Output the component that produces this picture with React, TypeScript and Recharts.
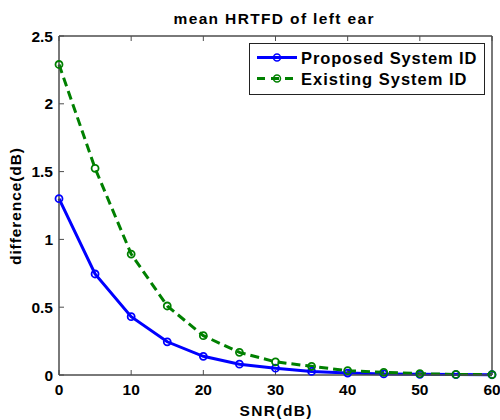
import React from 'react';
import { LineChart, Line, XAxis, YAxis, Legend } from 'recharts';

const snr = [0, 5, 10, 15, 20, 25, 30, 35, 40, 45, 50, 55, 60];
const proposed = [1.3, 0.745, 0.43, 0.245, 0.138, 0.08, 0.05, 0.026, 0.014, 0.008, 0.005, 0.003, 0.002];
const existing = [2.29, 1.524, 0.892, 0.509, 0.29, 0.167, 0.097, 0.064, 0.032, 0.02, 0.01, 0.004, 0.003];
const xTicks = [0, 10, 20, 30, 40, 50, 60];
const yTicks = [0, 0.5, 1, 1.5, 2, 2.5];
const seriesNames = ['Proposed System ID', 'Existing System ID'];

const data = snr.map((s, i) => ({ snr: s, proposed: proposed[i], existing: existing[i] }));

const FONT = "'Liberation Sans', Arial, Helvetica, sans-serif";
const AXIS = '#4d4d4d';
const BLUE = '#0000ff';
const GREEN = '#008000';
const DASH = '9 5';

const tickStyle = { fontSize: 15.5, fontWeight: 'bold', fill: '#000', fontFamily: FONT };
const labelStyle: React.CSSProperties = { fontSize: 15.5, fontWeight: 700, fontFamily: FONT };

const series = [
  { key: 'proposed', name: seriesNames[0], color: BLUE, dash: undefined as string | undefined, len: 175.5 },
  { key: 'existing', name: seriesNames[1], color: GREEN, dash: DASH, len: 165.5 },
];

const NoTick = () => <g />;

const LegendBox = () => (
  <svg width={237} height={53} style={{ display: 'block' }}>
    <rect x={0.5} y={0.5} width={235} height={51} fill="#fff" stroke="#222" strokeWidth={1} />
    {series.map((s, i) => {
      const y = 14.5 + i * 21;
      return (
        <g key={s.key}>
          <line x1={8} x2={48} y1={y} y2={y} stroke={s.color} strokeWidth={3} strokeDasharray={s.dash ? '8 6' : undefined} />
          <circle cx={28} cy={y} r={3.5} fill="none" stroke={s.color} strokeWidth={1.5} />
          <text
            x={52}
            y={y + 6}
            fill="#000"
            textLength={s.len}
            lengthAdjust="spacing"
            style={{ fontSize: 16.5, fontWeight: 700, fontFamily: FONT }}
          >
            {s.name}
          </text>
        </g>
      );
    })}
  </svg>
);

export default function App() {
  return (
    <div style={{ position: 'absolute', left: 0, top: 0, width: 500, height: 420, background: '#fff' }}>
      <LineChart width={500} height={420} data={data} margin={{ top: 35, right: 7, left: 0, bottom: 0 }}>
        <XAxis
          dataKey="snr"
          type="number"
          domain={[0, 60]}
          ticks={xTicks}
          interval={0}
          height={45}
          axisLine={{ stroke: AXIS, strokeWidth: 1.5 }}
          tickLine={{ stroke: AXIS, strokeWidth: 1 }}
          tickSize={-5}
          tickMargin={14}
          tick={tickStyle}
          label={(p: any) => {
            const vb = p.viewBox;
            return (
              <text x={vb.x + vb.width / 2} y={416} textAnchor="middle" fill="#000" textLength={72} lengthAdjust="spacing" style={labelStyle}>
                SNR(dB)
              </text>
            );
          }}
        />
        <XAxis
          xAxisId="top"
          orientation="top"
          dataKey="snr"
          type="number"
          domain={[0, 60]}
          ticks={xTicks}
          interval={0}
          height={1}
          axisLine={{ stroke: AXIS, strokeWidth: 1.5 }}
          tickLine={{ stroke: AXIS, strokeWidth: 1 }}
          tickSize={-5}
          tick={NoTick}
          label={(p: any) => {
            const vb = p.viewBox;
            return (
              <text x={273.5} y={24} textAnchor="middle" fill="#000" textLength={200} lengthAdjust="spacing" style={labelStyle}>
                mean HRTFD of left ear
              </text>
            );
          }}
        />
        <YAxis
          type="number"
          domain={[0, 2.5]}
          ticks={yTicks}
          interval={0}
          width={59}
          axisLine={{ stroke: AXIS, strokeWidth: 1.5 }}
          tickLine={{ stroke: AXIS, strokeWidth: 1 }}
          tickSize={-5}
          tickMargin={11}
          tick={tickStyle}
          label={(p: any) => {
            const vb = p.viewBox;
            const cx = 15.5;
            const cy = 206.5;
            return (
              <text x={cx} y={cy} transform={`rotate(-90 ${cx} ${cy})`} dy={5.5} textAnchor="middle" fill="#000" textLength={117} lengthAdjust="spacing" style={labelStyle}>
                difference(dB)
              </text>
            );
          }}
        />
        <YAxis
          yAxisId="right"
          orientation="right"
          type="number"
          domain={[0, 2.5]}
          ticks={yTicks}
          interval={0}
          width={1}
          axisLine={{ stroke: AXIS, strokeWidth: 1.5 }}
          tickLine={{ stroke: AXIS, strokeWidth: 1 }}
          tickSize={-5}
          tick={NoTick}
        />
        {series.map((s) => (
          <Line
            key={s.key}
            type="linear"
            dataKey={s.key}
            name={s.name}
            stroke={s.color}
            strokeWidth={3}
            strokeDasharray={s.dash}
            dot={{ r: 3.5, fill: 'none', stroke: s.color, strokeWidth: 1.8, strokeDasharray: 'none' }}
            activeDot={false}
            isAnimationActive={false}
          />
        ))}
        <Legend
          layout="horizontal"
          verticalAlign="middle"
          align="center"
          wrapperStyle={{ position: 'absolute', left: 249, top: 43, width: 237, height: 53 }}
          content={() => <LegendBox />}
        />
      </LineChart>
    </div>
  );
}
